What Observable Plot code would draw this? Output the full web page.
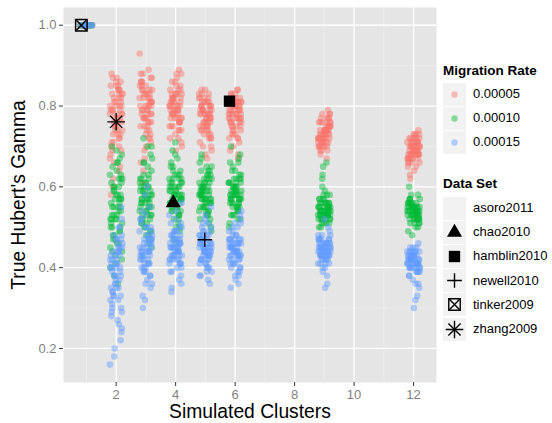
<!DOCTYPE html>
<html><head><meta charset="utf-8">
<script src="https://cdn.jsdelivr.net/npm/d3@7"></script>
<script src="https://cdn.jsdelivr.net/npm/@observablehq/plot@0.6"></script>
<style>
body{margin:0;background:#fff;font-family:"Liberation Sans",Arial,sans-serif;}
#wrap{position:relative;width:552px;height:423px;overflow:hidden;}
.lt{position:absolute;left:443px;font-size:13.5px;font-weight:bold;color:#000;white-space:nowrap;}
.key{position:absolute;left:443px;width:23px;height:23px;background:#F2F2F2;}
.key svg{position:absolute;left:0;top:0;}
.kl{position:absolute;left:473px;font-size:13px;color:#000;white-space:nowrap;line-height:16px;}
</style></head><body><div id="wrap"></div>
<script>
const clusters=[1,2,3,4,5,6,9,12];
const rates=["0.00005","0.00010","0.00015"];
const rateColors=["#F8766D","#00BA38","#619CFF"];
const xTicks=[2,4,6,8,10,12];
const xMinor=[1,3,5,7,9,11];
const yTicks=[0.2,0.4,0.6,0.8,1.0];
const yMinor=[0.3,0.5,0.7,0.9];

// True Hubert's Gamma per cluster count (1,2,3,4,5,6,9,12), migration rate 0.00005
const gamma00005=[
[1,1,1,1,1,1,1,1,1,1],
[0.80,0.72,0.85,0.77,0.66,0.83,0.79,0.74,0.88,0.70,0.81,0.76,0.62,0.84,0.78,0.73,0.86,0.69,0.82,0.75,0.80,0.58,0.77,0.83,0.71,0.87,0.79,0.64,0.74,0.81,0.68,0.85,0.76,0.72,0.60,0.82,0.78,0.70,0.84,0.75,0.78,0.83,0.73,0.86,0.80,0.75,0.82,0.69,0.77,0.84,0.79,0.65,0.81,0.74,0.87,0.76,0.71,0.83,0.78,0.80,0.73,0.85,0.67,0.79],
[0.80,0.84,0.76,0.93,0.82,0.73,0.86,0.78,0.69,0.83,0.88,0.75,0.81,0.64,0.79,0.85,0.72,0.77,0.87,0.80,0.70,0.83,0.76,0.61,0.82,0.78,0.86,0.74,0.67,0.81,0.84,0.79,0.73,0.85,0.77,0.82,0.71,0.80,0.89,0.75,0.81,0.77,0.84,0.79,0.74,0.86,0.80,0.83,0.76,0.88,0.78,0.82,0.72,0.85,0.79,0.81,0.75,0.84,0.66,0.80,0.87,0.77,0.83,0.78],
[0.79,0.83,0.75,0.88,0.81,0.72,0.77,0.84,0.80,0.69,0.82,0.76,0.86,0.78,0.74,0.81,0.89,0.79,0.71,0.83,0.77,0.80,0.75,0.85,0.78,0.82,0.73,0.79,0.84,0.76,0.81,0.70,0.78,0.83,0.80,0.74,0.86,0.77,0.82,0.79,0.80,0.76,0.83,0.78,0.85,0.81,0.74,0.79,0.87,0.77,0.82,0.80,0.75,0.84,0.78,0.81,0.72,0.83,0.79,0.76,0.82,0.80,0.88,0.77],
[0.78,0.74,0.81,0.70,0.79,0.83,0.76,0.72,0.80,0.67,0.77,0.82,0.75,0.79,0.73,0.84,0.78,0.71,0.80,0.76,0.69,0.81,0.77,0.74,0.82,0.78,0.72,0.79,0.75,0.83,0.77,0.68,0.80,0.76,0.73,0.81,0.78,0.74,0.79,0.75,0.77,0.80,0.74,0.82,0.78,0.75,0.81,0.79,0.72,0.83,0.76,0.80,0.78,0.73,0.81,0.77,0.84,0.75,0.79,0.82,0.76,0.70,0.80,0.78],
[0.77,0.81,0.74,0.79,0.83,0.72,0.78,0.80,0.70,0.76,0.82,0.75,0.79,0.67,0.81,0.77,0.73,0.84,0.78,0.71,0.80,0.76,0.82,0.74,0.79,0.69,0.77,0.81,0.75,0.78,0.83,0.72,0.80,0.76,0.79,0.73,0.82,0.77,0.75,0.81,0.78,0.76,0.81,0.79,0.74,0.83,0.77,0.80,0.72,0.82,0.78,0.75,0.80,0.84,0.77,0.79,0.73,0.81,0.76,0.78,0.82,0.68,0.80,0.77],
[0.73,0.70,0.76,0.72,0.78,0.69,0.74,0.71,0.77,0.73,0.68,0.75,0.72,0.79,0.70,0.74,0.76,0.71,0.73,0.69,0.77,0.72,0.75,0.70,0.74,0.78,0.71,0.73,0.67,0.76,0.72,0.74,0.70,0.75,0.73,0.71,0.77,0.72,0.74,0.76,0.72,0.74,0.70,0.76,0.73,0.71,0.75,0.77,0.72,0.74,0.69,0.73,0.78,0.71,0.75,0.72,0.74,0.70,0.76,0.73,0.71,0.75,0.72,0.74],
[0.69,0.67,0.71,0.68,0.73,0.66,0.70,0.68,0.72,0.65,0.69,0.74,0.67,0.70,0.68,0.71,0.63,0.69,0.72,0.67,0.70,0.66,0.73,0.68,0.69,0.71,0.67,0.64,0.70,0.68,0.72,0.69,0.66,0.71,0.68,0.70,0.62,0.69,0.67,0.72,0.70,0.68,0.72,0.69,0.71,0.67,0.73,0.70,0.68,0.71,0.69,0.66,0.72,0.70,0.68,0.71,0.69,0.73,0.67,0.70,0.65,0.69,0.71,0.68]
];
// migration rate 0.00010
const gamma00010=[
[1,1,1,1,1,1,1,1,1,1],
[0.55,0.62,0.48,0.67,0.51,0.58,0.44,0.60,0.53,0.70,0.46,0.57,0.63,0.40,0.52,0.59,0.49,0.65,0.54,0.42,0.61,0.56,0.47,0.68,0.50,0.36,0.58,0.45,0.64,0.53,0.57,0.43,0.60,0.50,0.55,0.38,0.62,0.48,0.66,0.52,0.57,0.52,0.61,0.47,0.55,0.63,0.50,0.58,0.44,0.54,0.60,0.49,0.56,0.66,0.51,0.59,0.46,0.53,0.62,0.41,0.57,0.52,0.69,0.55],
[0.58,0.53,0.62,0.48,0.66,0.55,0.51,0.60,0.70,0.56,0.46,0.59,0.64,0.52,0.57,0.49,0.61,0.54,0.72,0.58,0.50,0.63,0.55,0.47,0.60,0.67,0.53,0.57,0.51,0.62,0.56,0.45,0.59,0.65,0.54,0.52,0.61,0.57,0.68,0.50,0.56,0.60,0.53,0.58,0.63,0.51,0.57,0.55,0.61,0.49,0.59,0.54,0.66,0.57,0.52,0.60,0.55,0.62,0.48,0.58,0.53,0.56,0.70,0.59],
[0.58,0.62,0.54,0.67,0.56,0.60,0.50,0.64,0.57,0.71,0.53,0.59,0.63,0.47,0.58,0.61,0.55,0.66,0.52,0.60,0.57,0.69,0.54,0.62,0.49,0.59,0.56,0.64,0.58,0.53,0.61,0.46,0.57,0.65,0.55,0.60,0.51,0.63,0.58,0.56,0.59,0.56,0.62,0.54,0.60,0.57,0.65,0.53,0.58,0.61,0.55,0.63,0.50,0.59,0.57,0.62,0.54,0.68,0.58,0.56,0.60,0.52,0.61,0.57],
[0.58,0.62,0.55,0.65,0.57,0.53,0.60,0.64,0.56,0.50,0.59,0.63,0.54,0.61,0.57,0.67,0.52,0.60,0.58,0.55,0.62,0.49,0.59,0.56,0.64,0.53,0.61,0.57,0.66,0.55,0.60,0.51,0.58,0.63,0.56,0.59,0.54,0.62,0.57,0.68,0.59,0.56,0.61,0.54,0.58,0.63,0.57,0.60,0.52,0.59,0.55,0.62,0.57,0.65,0.58,0.54,0.61,0.56,0.60,0.53,0.58,0.64,0.57,0.59],
[0.58,0.61,0.55,0.64,0.57,0.52,0.60,0.67,0.56,0.59,0.63,0.53,0.58,0.70,0.55,0.62,0.57,0.51,0.60,0.65,0.56,0.59,0.54,0.62,0.58,0.66,0.53,0.61,0.57,0.55,0.63,0.50,0.59,0.56,0.68,0.58,0.54,0.61,0.57,0.60,0.59,0.56,0.62,0.57,0.54,0.60,0.58,0.64,0.55,0.61,0.57,0.59,0.53,0.62,0.58,0.56,0.66,0.60,0.57,0.55,0.61,0.58,0.52,0.59],
[0.54,0.52,0.56,0.53,0.58,0.51,0.55,0.53,0.62,0.54,0.50,0.56,0.52,0.57,0.55,0.65,0.53,0.54,0.51,0.56,0.55,0.59,0.52,0.54,0.57,0.53,0.50,0.55,0.63,0.54,0.52,0.56,0.53,0.55,0.51,0.58,0.54,0.66,0.53,0.55,0.55,0.53,0.56,0.52,0.54,0.57,0.53,0.55,0.51,0.56,0.54,0.58,0.53,0.55,0.52,0.54,0.60,0.53,0.56,0.54,0.52,0.55,0.53,0.57],
[0.54,0.52,0.56,0.53,0.55,0.51,0.57,0.54,0.50,0.55,0.53,0.58,0.52,0.54,0.56,0.49,0.55,0.53,0.57,0.51,0.54,0.60,0.52,0.55,0.53,0.56,0.50,0.54,0.52,0.55,0.57,0.53,0.48,0.54,0.56,0.52,0.55,0.53,0.51,0.54,0.55,0.53,0.54,0.56,0.52,0.55,0.53,0.57,0.54,0.51,0.55,0.53,0.56,0.54,0.52,0.55,0.58,0.53,0.54,0.56,0.52,0.55,0.53,0.54]
];
// migration rate 0.00015
const gamma00015=[
[1,1,1,1,1,1,1,1,1,1],
[0.42,0.35,0.48,0.28,0.45,0.38,0.52,0.31,0.44,0.22,0.40,0.47,0.33,0.55,0.37,0.26,0.43,0.39,0.18,0.46,0.34,0.41,0.29,0.50,0.36,0.24,0.44,0.32,0.16,0.40,0.47,0.30,0.38,0.20,0.43,0.35,0.27,0.45,0.33,0.41,0.40,0.44,0.36,0.47,0.32,0.42,0.38,0.50,0.34,0.45,0.29,0.41,0.37,0.43,0.25,0.39,0.46,0.33,0.42,0.35,0.48,0.30,0.40,0.44],
[0.45,0.40,0.50,0.36,0.47,0.43,0.55,0.39,0.48,0.33,0.44,0.51,0.41,0.58,0.46,0.30,0.42,0.49,0.38,0.53,0.44,0.35,0.47,0.41,0.52,0.37,0.45,0.43,0.60,0.40,0.48,0.32,0.46,0.42,0.50,0.39,0.44,0.54,0.41,0.47,0.44,0.47,0.41,0.49,0.43,0.46,0.38,0.45,0.50,0.42,0.47,0.40,0.44,0.52,0.43,0.46,0.36,0.45,0.48,0.42,0.44,0.39,0.47,0.43],
[0.45,0.42,0.49,0.38,0.47,0.44,0.53,0.41,0.46,0.35,0.48,0.43,0.50,0.39,0.45,0.56,0.42,0.47,0.34,0.44,0.49,0.41,0.46,0.52,0.43,0.37,0.48,0.45,0.40,0.51,0.44,0.47,0.36,0.43,0.49,0.46,0.42,0.54,0.45,0.41,0.44,0.47,0.42,0.46,0.49,0.43,0.45,0.40,0.48,0.44,0.46,0.51,0.43,0.45,0.41,0.47,0.44,0.39,0.46,0.48,0.43,0.45,0.42,0.50],
[0.45,0.42,0.48,0.39,0.46,0.51,0.43,0.47,0.37,0.44,0.49,0.41,0.53,0.45,0.40,0.47,0.43,0.50,0.38,0.46,0.44,0.55,0.42,0.48,0.36,0.45,0.41,0.49,0.44,0.52,0.40,0.46,0.43,0.47,0.39,0.50,0.45,0.42,0.48,0.44,0.44,0.46,0.42,0.48,0.45,0.41,0.47,0.43,0.49,0.44,0.46,0.40,0.45,0.43,0.47,0.42,0.51,0.44,0.46,0.38,0.45,0.48,0.43,0.46],
[0.45,0.41,0.48,0.38,0.46,0.50,0.43,0.47,0.36,0.44,0.52,0.40,0.46,0.42,0.49,0.37,0.45,0.43,0.51,0.39,0.47,0.44,0.41,0.54,0.45,0.48,0.35,0.43,0.46,0.40,0.50,0.44,0.42,0.47,0.38,0.45,0.53,0.41,0.46,0.43,0.44,0.46,0.42,0.48,0.45,0.43,0.47,0.40,0.46,0.44,0.49,0.42,0.45,0.43,0.47,0.41,0.46,0.44,0.51,0.43,0.45,0.39,0.47,0.44],
[0.45,0.42,0.47,0.44,0.40,0.48,0.43,0.46,0.38,0.45,0.50,0.42,0.44,0.47,0.41,0.45,0.36,0.43,0.49,0.44,0.46,0.41,0.45,0.52,0.43,0.47,0.39,0.44,0.46,0.42,0.48,0.45,0.35,0.43,0.46,0.44,0.41,0.47,0.45,0.43,0.44,0.46,0.43,0.45,0.47,0.42,0.44,0.46,0.41,0.45,0.43,0.48,0.44,0.42,0.46,0.45,0.43,0.47,0.44,0.40,0.45,0.43,0.46,0.44],
[0.42,0.40,0.44,0.41,0.38,0.43,0.45,0.39,0.42,0.36,0.44,0.41,0.43,0.40,0.46,0.42,0.33,0.41,0.44,0.39,0.43,0.40,0.42,0.45,0.37,0.41,0.43,0.30,0.42,0.40,0.44,0.41,0.35,0.43,0.39,0.42,0.44,0.40,0.32,0.41,0.41,0.43,0.40,0.42,0.44,0.39,0.42,0.41,0.43,0.40,0.45,0.42,0.38,0.41,0.43,0.42,0.40,0.44,0.41,0.39,0.43,0.42,0.36,0.41]
];
// horizontal jitter offsets (cluster units)
const jitter=[-0.16,0.11,-0.04,0.19,-0.13,0.06,0.15,-0.20,0.02,-0.08,0.17,-0.01,0.09,-0.18,0.13,-0.06,0.21,-0.11,0.04,-0.15,0.10,-0.02,0.18,-0.10,0.07,-0.21,0.14,0.00,-0.13,0.16,-0.05,0.12,-0.17,0.05,0.20,-0.08,0.03,-0.14,0.09,-0.03,0.16,-0.19,0.01,-0.07,0.12,-0.12,0.08,0.19];

// empirical data sets
const dataSets=["asoro2011","chao2010","hamblin2010","newell2010","tinker2009","zhang2009"];
const dataSetClusters=[null,3.92,5.81,4.98,0.83,2.0];
const dataSetGamma=[null,0.56,0.812,0.469,1.0,0.761];

const series=[gamma00005,gamma00010,gamma00015];
const points=[];
series.forEach((cols,ri)=>cols.forEach((vals,ci)=>vals.forEach((v,i)=>{
  points.push({rate:rates[ri],x:clusters[ci]+jitter[(i+ci*11+ri*17)%jitter.length],y:v});
})));
const markers=dataSets.map((name,i)=>({name,x:dataSetClusters[i],y:dataSetGamma[i]})).filter(d=>d.x!=null);
const ds=n=>markers.filter(d=>d.name===n);

const chart=Plot.plot({
  width:552,height:423,
  marginLeft:63,marginRight:116,marginTop:7,marginBottom:41,
  x:{domain:[0.23,12.77],label:null},
  y:{domain:[0.1157,1.0439],label:null},
  color:{domain:rates,range:rateColors},
  style:{fontFamily:"'Liberation Sans',Arial,sans-serif",background:"#fff",overflow:"visible"},
  marks:[
    Plot.frame({fill:"#E5E5E5",stroke:null}),
    Plot.gridX(xMinor,{stroke:"#F2F2F2",strokeOpacity:1,strokeWidth:0.6}),
    Plot.gridY(yMinor,{stroke:"#F2F2F2",strokeOpacity:1,strokeWidth:0.6}),
    Plot.gridX(xTicks,{stroke:"#FFFFFF",strokeOpacity:1,strokeWidth:1.3}),
    Plot.gridY(yTicks,{stroke:"#FFFFFF",strokeOpacity:1,strokeWidth:1.3}),
    Plot.dot(points,{x:"x",y:"y",fill:"rate",r:3.3,fillOpacity:0.45,stroke:null}),
    Plot.dot(ds("chao2010"),{x:"x",y:"y",symbol:"triangle",r:5.6,fill:"#000",stroke:null}),
    Plot.dot(ds("hamblin2010"),{x:"x",y:"y",symbol:"square",r:6.4,fill:"#000",stroke:null}),
    Plot.dot(ds("newell2010"),{x:"x",y:"y",symbol:"plus",r:4.8,fill:"none",stroke:"#000",strokeWidth:1.3}),
    Plot.dot(ds("tinker2009"),{x:"x",y:"y",symbol:"square2",r:7.3,fill:"none",stroke:"#000",strokeWidth:1.5}),
    Plot.dot(ds("tinker2009"),{x:"x",y:"y",symbol:"times",r:5.0,fill:"none",stroke:"#000",strokeWidth:1.5}),
    Plot.dot(ds("zhang2009"),{x:"x",y:"y",symbol:"plus",r:5.7,fill:"none",stroke:"#000",strokeWidth:1.3}),
    Plot.dot(ds("zhang2009"),{x:"x",y:"y",symbol:"times",r:5.6,fill:"none",stroke:"#000",strokeWidth:1.3}),
    Plot.axisX(xTicks,{tickSize:4,tickPadding:3,fontSize:13,stroke:"#333333",fill:"#7F7F7F",label:null}),
    Plot.axisY(yTicks,{tickSize:4,tickPadding:3,fontSize:13,stroke:"#333333",fill:"#7F7F7F",label:null,tickFormat:d3.format(".1f")}),
    Plot.text(["Simulated Clusters"],{text:d=>d,frameAnchor:"bottom",lineAnchor:"middle",textAnchor:"middle",dy:29.5,fontSize:19.3,fill:"#000"}),
    Plot.text(["True Hubert's Gamma"],{text:d=>d,frameAnchor:"left",lineAnchor:"middle",textAnchor:"middle",dx:-45,rotate:-90,fontSize:19.3,fill:"#000"})
  ]
});
const wrap=document.getElementById("wrap");
wrap.appendChild(chart);

function add(html){const t=document.createElement("div");t.innerHTML=html;const el=t.firstChild;wrap.appendChild(el);return el;}
add(`<div class="lt" style="top:63px">Migration Rate</div>`);
rates.forEach((r,i)=>{
  const cy=94+i*24;
  add(`<div class="key" style="top:${cy-11.5}px"><svg width="23" height="23"><circle cx="11.5" cy="11.5" r="3.2" fill="${rateColors[i]}" fill-opacity="0.45"/></svg></div>`);
  add(`<div class="kl" style="top:${cy-8}px">${r}</div>`);
});
add(`<div class="lt" style="top:176px">Data Set</div>`);
const legSym={
  asoro2011:[],
  chao2010:[[d3.symbolTriangle,5.6,true]],
  hamblin2010:[[d3.symbolSquare,6.4,true]],
  newell2010:[[d3.symbolPlus,4.8,false]],
  tinker2009:[[d3.symbolSquare2,7.3,false],[d3.symbolTimes,5.0,false]],
  zhang2009:[[d3.symbolPlus,5.7,false],[d3.symbolTimes,5.6,false]]
};
dataSets.forEach((n,i)=>{
  const cy=208+i*24.2;
  const paths=legSym[n].map(([t,r,f])=>{
    const p=d3.symbol(t,Math.PI*r*r)();
    return f?`<path d="${p}" fill="#000" transform="translate(11.5,11.5)"/>`:`<path d="${p}" fill="none" stroke="#000" stroke-width="1.4" transform="translate(11.5,11.5)"/>`;
  }).join("");
  add(`<div class="key" style="top:${cy-11.5}px"><svg width="23" height="23">${paths}</svg></div>`);
  add(`<div class="kl" style="top:${cy-8}px">${n}</div>`);
});
</script></body></html>
